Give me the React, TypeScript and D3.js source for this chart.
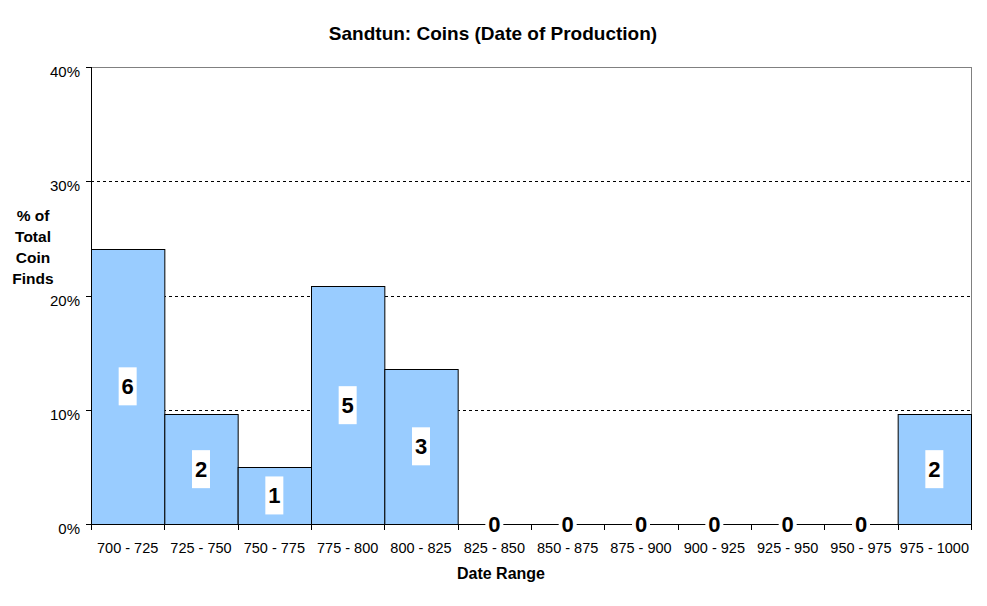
import React from "react";
import * as d3 from "d3";

const categories = ["700 - 725","725 - 750","750 - 775","775 - 800","800 - 825","825 - 850","850 - 875","875 - 900","900 - 925","925 - 950","950 - 975","975 - 1000"];
const percents = [24.1, 9.6, 5.0, 20.8, 13.6, 0, 0, 0, 0, 0, 0, 9.6];
const counts = [6, 2, 1, 5, 3, 0, 0, 0, 0, 0, 0, 2];
const yTicks = [0, 10, 20, 30, 40];

export default function App() {
  const W = 987, H = 606;
  const left = 91, right = 971, top = 67, bottom = 524;
  const x = d3.scaleBand<string>().domain(categories).range([left, right]).padding(0);
  const y = d3.scaleLinear().domain([0, 40]).range([bottom, top]);
  const font = "Arial, 'Liberation Sans', sans-serif";
  return (
    <svg width={W} height={H} style={{ position: "absolute", left: 0, top: 0, background: "#fff" }} fontFamily={font}>
      <rect x={0} y={0} width={W} height={H} fill="#fff" />
      <text x={493} y={40} textAnchor="middle" fontSize={19} fontWeight="bold">Sandtun: Coins (Date of Production)</text>
      {/* plot border */}
      <line x1={left} x2={right} y1={top + 0.5} y2={top + 0.5} stroke="#808080" />
      <line x1={right + 0.5} x2={right + 0.5} y1={top} y2={bottom} stroke="#808080" />
      {/* gridlines */}
      {yTicks.filter(t => t > 0 && t < 40).map(t => (
        <line key={t} x1={left} x2={right} y1={Math.round(y(t)) + 0.5} y2={Math.round(y(t)) + 0.5} stroke="#000" strokeDasharray="3,3" />
      ))}
      {/* bars */}
      {categories.map((c, i) => percents[i] > 0 ? (
        <rect key={c} x={(x(c) as number) + 0.5} y={Math.round(y(percents[i])) + 0.5} width={x.bandwidth()} height={bottom - Math.round(y(percents[i]))} fill="#99CCFF" stroke="#000" strokeWidth={1} />
      ) : null)}
      {/* axes */}
      <line x1={left + 0.5} x2={left + 0.5} y1={top} y2={bottom + 0.5} stroke="#000" />
      <line x1={left - 5} x2={right + 1} y1={bottom + 0.5} y2={bottom + 0.5} stroke="#000" />
      {yTicks.map(t => (
        <g key={t}>
          <line x1={left - 5} x2={left} y1={Math.round(y(t)) + 0.5} y2={Math.round(y(t)) + 0.5} stroke="#000" />
          <text x={left - 11} y={y(t) + 10} textAnchor="end" fontSize={15}>{t}%</text>
        </g>
      ))}
      {d3.range(categories.length + 1).map(i => {
        const xx = Math.round(left + i * x.bandwidth()) + 0.5;
        return <line key={i} x1={xx} x2={xx} y1={bottom} y2={bottom + 6} stroke="#000" />;
      })}
      {categories.map(c => (
        <text key={c} x={(x(c) as number) + x.bandwidth() / 2} y={553} textAnchor="middle" fontSize={14.5}>{c}</text>
      ))}
      {/* data labels */}
      {categories.map((c, i) => {
        const cx = (x(c) as number) + x.bandwidth() / 2;
        const cy = percents[i] > 0 ? (y(percents[i]) + bottom) / 2 : bottom;
        const bw = 18, bh = percents[i] > 0 ? 38 : 22;
        return (
          <g key={c}>
            <rect x={cx - bw / 2} y={cy - bh / 2} width={bw} height={bh} fill="#fff" />
            <text x={cx} y={cy + 8} textAnchor="middle" fontSize={22} fontWeight="bold">{counts[i]}</text>
          </g>
        );
      })}
      <text x={501} y={579} textAnchor="middle" fontSize={16} fontWeight="bold">Date Range</text>
      {["% of", "Total", "Coin", "Finds"].map((s, i) => (
        <text key={s} x={33} y={221 + i * 21} textAnchor="middle" fontSize={15.5} fontWeight="bold">{s}</text>
      ))}
    </svg>
  );
}
